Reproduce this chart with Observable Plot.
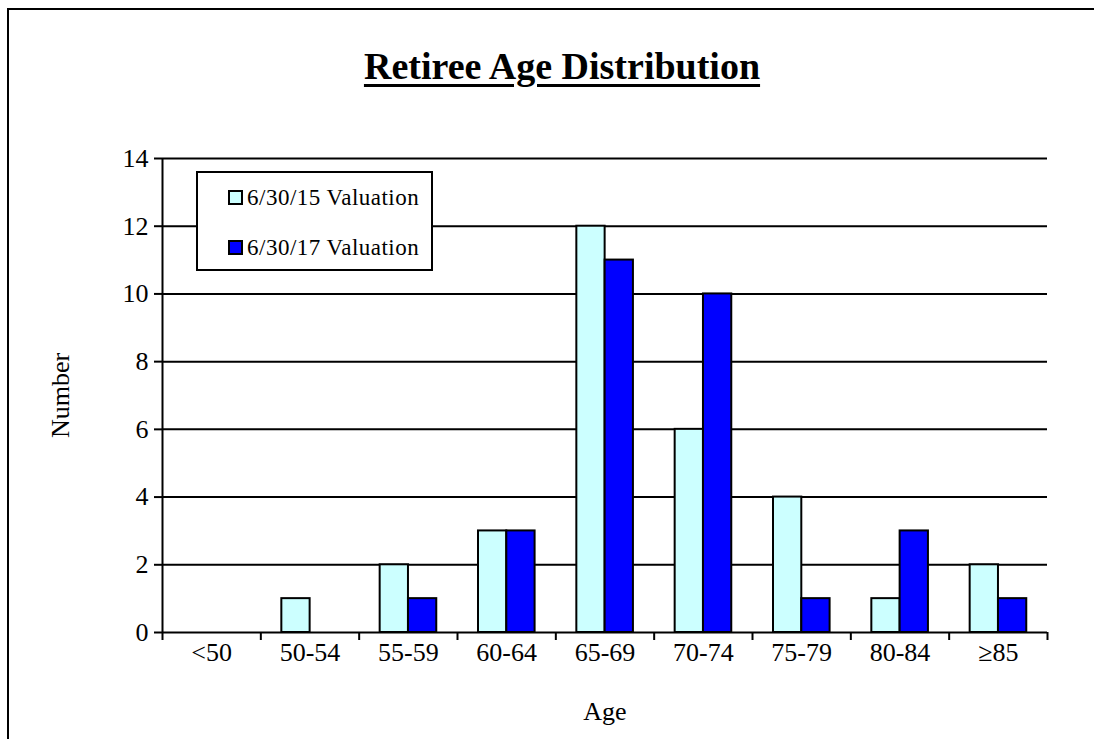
<!DOCTYPE html>
<html>
<head>
<meta charset="utf-8">
<script src="https://cdn.jsdelivr.net/npm/d3@7"></script>
<script src="https://cdn.jsdelivr.net/npm/@observablehq/plot@0.6"></script>
<style>
  html, body { margin: 0; padding: 0; background: #fff; overflow: hidden; }
  body { width: 1094px; height: 739px; position: relative;
         font-family: "Liberation Serif", "Times New Roman", serif; }
  #frame { position: absolute; left: 7px; top: 8px; right: 0; bottom: 0;
           border-left: 2px solid #000; border-top: 2px solid #000; }
  #title { position: absolute; left: 0; top: 47px; width: 1124px; text-align: center;
           font-size: 38px; line-height: 38px; font-weight: bold; text-decoration: underline;
           text-decoration-thickness: 3px; text-underline-offset: 5px; color: #000; }
  #chart { position: absolute; left: 0; top: 140px; }
  #legend { position: absolute; left: 196px; top: 171px; width: 237px; height: 100px;
            box-sizing: border-box; border: 2px solid #000; background: #fff; }
  .item { position: absolute; left: 30px; font-size: 23px; line-height: 23px; color: #000;
          letter-spacing: 0.5px; white-space: nowrap; display: flex; align-items: center; }
  .swatch { width: 11px; height: 11px; border: 2px solid #000; margin-right: 4px; box-sizing: content-box; }
</style>
</head>
<body>
<div id="frame"></div>
<div id="title">Retiree Age Distribution</div>
<div id="chart"></div>
<div id="legend"></div>
<script>
// Age groups along the x axis
const ages = ["<50", "50-54", "55-59", "60-64", "65-69", "70-74", "75-79", "80-84", "\u226585"];
// Number of retirees in each age group, per valuation
const series = ["6/30/15 Valuation", "6/30/17 Valuation"];
const val2015 = [0, 1, 2, 3, 12, 6, 4, 1, 2];
const val2017 = [0, 0, 1, 3, 11, 10, 1, 3, 1];
const colors = ["#CCFFFF", "#0000FF"];
const yTicks = [0, 2, 4, 6, 8, 10, 12, 14];

const rows = ages.flatMap((age, i) => [
  {age, i, series: series[0], value: val2015[i]},
  {age, i, series: series[1], value: val2017[i]}
]).filter(d => d.value > 0);

const W = 1094, H = 599;
const mL = 162, mR = 47, mT = 18, mB = 107;
const band = (W - mL - mR) / ages.length;
const barW = 28.3, outer = 21;

const font = "'Liberation Serif', 'Times New Roman', serif";

const chart = Plot.plot({
  width: W, height: H,
  marginLeft: mL, marginRight: mR, marginTop: mT, marginBottom: mB,
  style: {fontFamily: font, fontSize: "26px", color: "#000", background: "transparent"},
  x: {type: "linear", domain: [0, ages.length]},
  y: {domain: [0, 14]},
  marks: [
    Plot.gridY(yTicks, {stroke: "#000", strokeOpacity: 1, strokeWidth: 2}),
    Plot.rectY(rows.filter(d => d.series === series[0]), {
      x1: d => d.i, x2: d => d.i + 1, y: "value",
      fill: colors[0], stroke: "#000", strokeWidth: 2,
      insetLeft: outer, insetRight: band - outer - barW
    }),
    Plot.rectY(rows.filter(d => d.series === series[1]), {
      x1: d => d.i, x2: d => d.i + 1, y: "value",
      fill: colors[1], stroke: "#000", strokeWidth: 2,
      insetLeft: outer + barW, insetRight: band - outer - 2 * barW
    }),
    Plot.ruleX([0], {stroke: "#000", strokeWidth: 2}),
    Plot.axisY({ticks: yTicks, tickSize: 8, tickPadding: 6, strokeWidth: 2,
      fontSize: 26, label: "Number", labelAnchor: "center", labelArrow: "none", labelOffset: 112}),
    Plot.axisX({ticks: d3.range(ages.length + 1), tickSize: 8, strokeWidth: 2, tickFormat: () => "", label: null}),
    Plot.axisX({ticks: ages.map((a, i) => i + 0.5), tickSize: 0, tickPadding: 10,
      tickFormat: d => ages[Math.floor(d)], fontSize: 26,
      label: "Age", labelAnchor: "center", labelArrow: "none", labelOffset: 87})
  ]
});
document.getElementById("chart").appendChild(chart);

// Legend entries
const legend = document.getElementById("legend");
series.forEach((s, k) => {
  const item = document.createElement("div");
  item.className = "item";
  item.style.top = (13 + k * 50) + "px";
  const sw = document.createElement("span");
  sw.className = "swatch";
  sw.style.background = colors[k];
  item.appendChild(sw);
  item.appendChild(document.createTextNode(s));
  legend.appendChild(item);
});
</script>
</body>
</html>
